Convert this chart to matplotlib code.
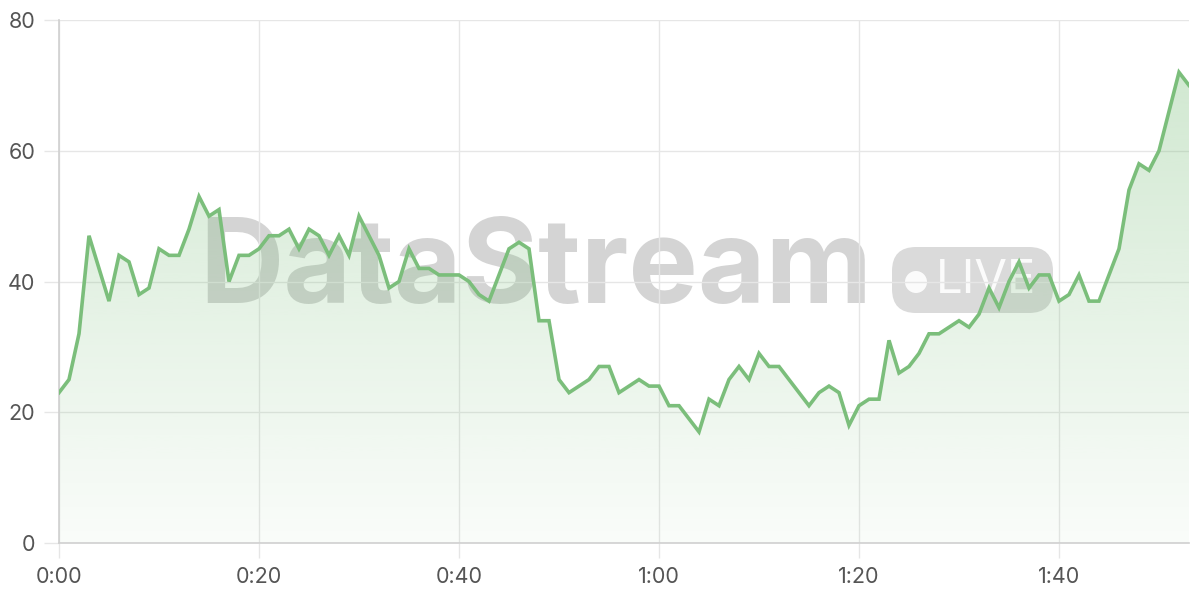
import numpy as np
import matplotlib
matplotlib.use('Agg')
import matplotlib.pyplot as plt
from matplotlib.patches import FancyBboxPatch, Circle

# one reading per second, 0:00 .. 1:53
values = [23, 25, 32, 47, 42, 37, 44, 43, 38, 39,
          45, 44, 44, 48, 53, 50, 51, 40, 44, 44,
          45, 47, 47, 48, 45, 48, 47, 44, 47, 44,
          50, 47, 44, 39, 40, 45, 42, 42, 41, 41,
          41, 40, 38, 37, 41, 45, 46, 45, 34, 34,
          25, 23, 24, 25, 27, 27, 23, 24, 25, 24,
          24, 21, 21, 19, 17, 22, 21, 25, 27, 25,
          29, 27, 27, 25, 23, 21, 23, 24, 23, 18,
          21, 22, 22, 31, 26, 27, 29, 32, 32, 33,
          34, 33, 35, 39, 36, 40, 43, 39, 41, 41,
          37, 38, 41, 37, 37, 41, 45, 54, 58, 57,
          60, 66, 72, 70]
seconds = np.arange(len(values))
x_ticks = [0, 20, 40, 60, 80, 100]
x_labels = ['0:00', '0:20', '0:40', '1:00', '1:20', '1:40']
y_ticks = [0, 20, 40, 60, 80]

green = '#7bbe7b'
grid_c = '#e6e6e6'
text_c = '#555555'
plt.rcParams['font.family'] = ['Inter', 'DejaVu Sans']

fig = plt.figure(figsize=(12, 6), dpi=100)

# watermark layer in pixel coords, behind the chart
bg = fig.add_axes([0, 0, 1, 1], zorder=0)
bg.set_xlim(0, 1200)
bg.set_ylim(600, 0)
bg.axis('off')
bg.text(536, 272, 'DataStream', fontsize=84, fontweight='bold', color='#999999',
        alpha=0.42, ha='center', va='center')
pill = FancyBboxPatch((892, 247), 161, 66, boxstyle='round,pad=0,rounding_size=24',
                      fc='#999999', ec='none', alpha=0.36)
bg.add_patch(pill)
bg.add_patch(Circle((916, 282), 11, fc='white', ec='none', alpha=0.9))
bg.text(986, 281, 'LIVE', fontsize=34, color='white', ha='center', va='center', alpha=0.9)

ax = fig.add_axes([59 / 1200, 1 - 543 / 600, 1130 / 1200, 523 / 600], zorder=1)
ax.patch.set_alpha(0)

# gradient fill under the line
poly = ax.fill_between(seconds, values, 0, color='none')
grad = np.linspace(0.04, 0.38, 256).reshape(-1, 1)
rgba = np.zeros((256, 1, 4))
rgba[..., :3] = matplotlib.colors.to_rgb(green)
rgba[..., 3] = grad
img = ax.imshow(rgba, extent=[0, seconds[-1], 0, 80], origin='lower',
                aspect='auto', zorder=1)
img.set_clip_path(poly.get_paths()[0], transform=ax.transData)

ax.plot(seconds, values, color=green, lw=2.6, zorder=3, solid_joinstyle='miter')

ax.set_xlim(0, seconds[-1])
ax.set_ylim(0, 80)
ax.set_xticks(x_ticks)
ax.set_xticklabels(x_labels)
ax.set_yticks(y_ticks)
ax.grid(True, color=grid_c, lw=1, zorder=0)
ax.set_axisbelow(True)
for s in ['top', 'right']:
    ax.spines[s].set_visible(False)
for s in ['left', 'bottom']:
    ax.spines[s].set_color('#d0d0d0')
    ax.spines[s].set_linewidth(1.2)
ax.tick_params(length=11, width=1, color=grid_c, labelcolor=text_c,
               labelsize=15.5, pad=6)

fig.savefig('out.png', dpi=100)
